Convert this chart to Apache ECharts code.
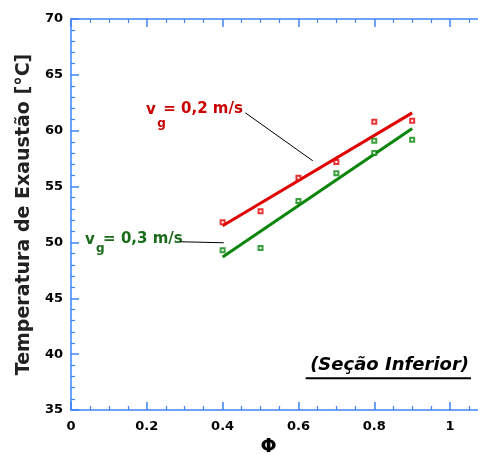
<!DOCTYPE html>
<html><head><meta charset="utf-8">
<script src="https://cdn.jsdelivr.net/npm/echarts@6/dist/echarts.min.js"></script>
<style>html,body{margin:0;padding:0;background:#fff}#c{width:478px;height:455px}</style>
</head><body><div id="c"></div>
<script>
// Data
const phiRed = [0.4, 0.5, 0.6, 0.7, 0.8, 0.9];
const tempRed = [51.8, 52.8, 55.8, 57.2, 60.8, 60.9];
const phiGreen = [0.4, 0.5, 0.6, 0.7, 0.8, 0.8, 0.9];
const tempGreen = [49.3, 49.5, 53.7, 56.2, 58.0, 59.1, 59.2];
const fitPhi = [0.4, 0.9];
const fitRed = [51.5, 61.6];
const fitGreen = [48.7, 60.2];
const xTicks = [0, 0.2, 0.4, 0.6, 0.8, 1];
const yTicks = [35, 40, 45, 50, 55, 60, 65, 70];
const labelRed = ['v', 'g', '= 0,2 m/s'];
const labelGreen = ['v', 'g', '= 0,3 m/s'];
const sectionTitle = '(Seção Inferior)';
const yName = 'Temperatura de Exaustão [°C]';
const xName = 'Φ';
// annotation connector anchors (data coords)
const connRed = [[0.46, 61.6], [0.638, 57.3]];
const connGreen = [[0.288, 50.06], [0.403, 49.97]];

const AX = '#3f83f8';
const RED = '#e00000', GREEN = '#0b860b';
const pairs = (xs, ys) => xs.map((x, i) => [x, ys[i]]);

const chart = echarts.init(document.getElementById('c'));
const axisCommon = {
  axisLine: {show: true, lineStyle: {color: AX, width: 1.5}},
  axisTick: {show: true, inside: true, length: 8, lineStyle: {color: AX, width: 1.5}},
  minorTick: {show: true, length: 4, lineStyle: {color: AX, width: 1.2}},
  splitLine: {show: false}
};
chart.setOption({
  animation: false,
  grid: {left: 71, top: 19, right: -10, bottom: 45, containLabel: false, outerBoundsMode: 'none'},
  xAxis: [
    Object.assign({}, axisCommon, {
      type: 'value', min: 0, max: 1.1, interval: 0.2, position: 'bottom',
      minorTick: Object.assign({}, axisCommon.minorTick, {splitNumber: 4}),
      axisLabel: {show: true, showMaxLabel: false, margin: 10, color: '#000',
        fontFamily: 'DejaVu Sans', fontWeight: 'bold', fontSize: 13,
        formatter: v => xTicks.indexOf(Math.round(v * 100) / 100) >= 0 ? String(Math.round(v * 100) / 100) : ''},
      name: xName, nameLocation: 'middle', nameGap: 26,
      nameTextStyle: {fontFamily: 'DejaVu Sans', fontWeight: 'bold', fontSize: 19, color: '#000', padding: [0, 22, 0, 0]}
    }),
    Object.assign({}, axisCommon, {
      type: 'value', min: 0, max: 1.1, interval: 0.2, position: 'top',
      minorTick: Object.assign({}, axisCommon.minorTick, {splitNumber: 4}),
      axisLabel: {show: false}
    })
  ],
  yAxis: Object.assign({}, axisCommon, {
    type: 'value', min: 35, max: 70, interval: 5,
    minorTick: Object.assign({}, axisCommon.minorTick, {splitNumber: 5}),
    axisLabel: {margin: 8, color: '#000', fontFamily: 'DejaVu Sans', fontWeight: 'bold', fontSize: 13,
      formatter: v => yTicks.indexOf(v) >= 0 ? String(v) : ''},
    name: yName, nameLocation: 'middle', nameGap: 33, nameRotate: 90,
    nameTextStyle: {fontFamily: 'DejaVu Sans', fontWeight: 'bold', fontSize: 19, color: '#222'}
  }),
  series: [
    {type: 'line', data: pairs(fitPhi, fitRed), symbol: 'none', lineStyle: {color: RED, width: 3}, z: 2},
    {type: 'line', data: pairs(fitPhi, fitGreen), symbol: 'none', lineStyle: {color: GREEN, width: 3}, z: 2},
    {type: 'scatter', data: pairs(phiRed, tempRed), symbol: 'emptyRect', symbolSize: 4,
      itemStyle: {color: RED, borderColor: RED, borderWidth: 1}, z: 3},
    {type: 'scatter', data: pairs(phiGreen, tempGreen), symbol: 'emptyRect', symbolSize: 4,
      itemStyle: {color: GREEN, borderColor: GREEN, borderWidth: 1}, z: 3},
    {type: 'line', data: connRed, symbol: 'none', lineStyle: {color: '#000', width: 1}, z: 1},
    {type: 'line', data: connGreen, symbol: 'none', lineStyle: {color: '#000', width: 1}, z: 1}
  ]
});

function px(p) { return chart.convertToPixel({xAxisIndex: 0, yAxisIndex: 0}, p); }
function label(parts, color, vPos, gPos, eqPos) {
  const F = 'bold 15px "DejaVu Sans"';
  const v = px(vPos), g = px(gPos), e = px(eqPos);
  return [
    {type: 'text', style: {text: parts[0], x: v[0], y: v[1], font: F, fill: color, textVerticalAlign: 'middle'}},
    {type: 'text', style: {text: parts[1], x: g[0], y: g[1], font: 'bold 12px "DejaVu Sans"', fill: color, textVerticalAlign: 'middle'}},
    {type: 'text', style: {text: parts[2], x: e[0], y: e[1], font: F, fill: color, textVerticalAlign: 'middle'}}
  ];
}
const tPos = px([1.05, 39.02]);
const u1 = px([0.619, 37.85]), u2 = px([1.055, 37.85]);
chart.setOption({
  graphic: [].concat(
    label(labelRed, '#c80000', [0.198, 61.85], [0.2275, 60.6], [0.2434, 61.94]),
    label(labelGreen, '#1a6b1a', [0.037, 50.2], [0.066, 49.45], [0.0847, 50.26]),
    [
      {type: 'text', style: {text: sectionTitle, x: tPos[0], y: tPos[1], font: 'italic bold 18px "DejaVu Sans"',
        fill: '#000', textAlign: 'right', textVerticalAlign: 'middle'}},
      {type: 'line', shape: {x1: u1[0], y1: u1[1], x2: u2[0], y2: u2[1]}, style: {stroke: '#000', lineWidth: 2}}
    ]
  )
});
</script></body></html>
